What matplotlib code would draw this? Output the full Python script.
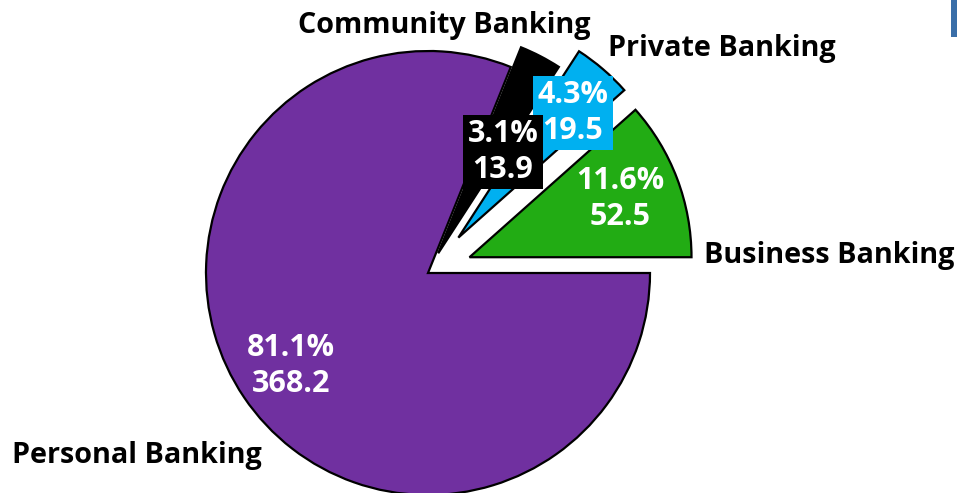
import matplotlib
matplotlib.use("Agg")
import matplotlib.pyplot as plt
from matplotlib.patches import Rectangle

# Segment data (order: counter-clockwise from 3 o'clock)
segments = ["Business Banking", "Private Banking", "Community Banking", "Personal Banking"]
values = [52.5, 19.5, 13.9, 368.2]
colors = ["#22AC14", "#00B0F0", "#000000", "#7030A0"]
explode = [0.2, 0.21, 0.1, 0.0]   # fraction of the radius

W, H = 957, 493
fig = plt.figure(figsize=(W / 100, H / 100), dpi=100)
ax = fig.add_axes([0, 0, 1, 1])

center = (428, H - 273)
radius = 222
ax.pie(values, colors=colors, explode=[e * radius for e in explode],
       startangle=0, counterclock=True, radius=radius, center=center,
       wedgeprops=dict(edgecolor="black", linewidth=1.6), frame=True)
ax.set_xlim(0, W)
ax.set_ylim(0, H)
ax.set_aspect("equal")
ax.axis("off")

total = sum(values)
labels = [f"{v / total * 100:.1f}%\n{v:.1f}" for v in values]

font = ["Open Sans", "DejaVu Sans"]
num_kw = dict(color="white", fontsize=22, fontweight="bold", family=font,
              ha="center", va="center", linespacing=1.25)

# value labels inside / on the slices
ax.text(620, H - 199, labels[0], **num_kw)
ax.text(573, H - 113, labels[1],
        bbox=dict(boxstyle="square,pad=0.14", fc=colors[1], ec="none"), **num_kw)
ax.text(503, H - 152, labels[2],
        bbox=dict(boxstyle="square,pad=0.14", fc=colors[2], ec="none"), **num_kw)
ax.text(291, H - 366, labels[3], **num_kw)

# category names
name_kw = dict(color="black", fontsize=20.7, fontweight="bold", family=font,
               ha="center", va="baseline")
ax.text(829, H - 263, segments[0], **name_kw)
ax.text(722, H - 56, segments[1], **name_kw)
ax.text(444, H - 33, segments[2], **name_kw)
ax.text(137, H - 463, segments[3], **name_kw)

# edge of adjacent panel at top right
ax.add_patch(Rectangle((951, H - 37), 8, 37, fc="#3A6EA8", ec="none", clip_on=False))

fig.savefig("out.png", dpi=100, facecolor="white")
